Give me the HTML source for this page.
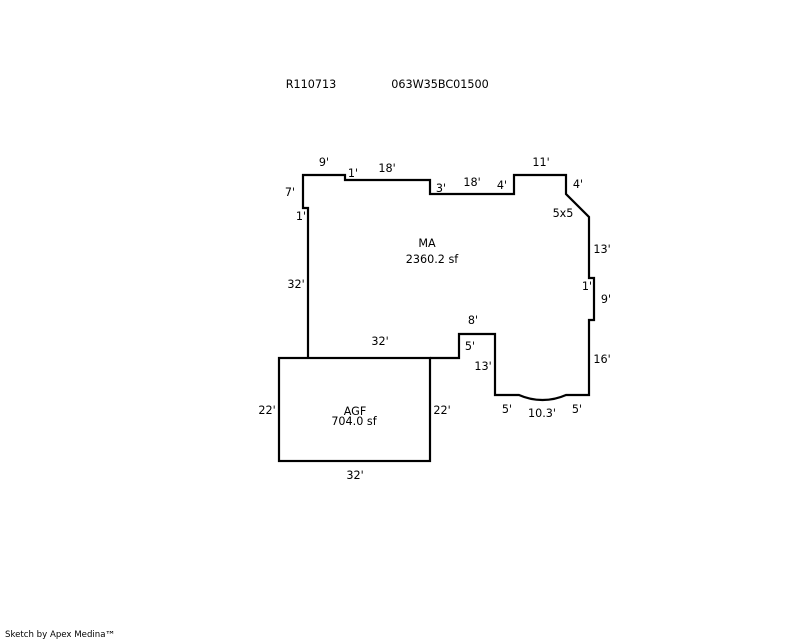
<!DOCTYPE html>
<html>
<head>
<meta charset="utf-8">
<style>
html,body{margin:0;padding:0;background:#fff;width:800px;height:640px;overflow:hidden}
svg{display:block}
text{font-family:"DejaVu Sans",sans-serif;font-size:11.2px;fill:#000;text-anchor:middle}
</style>
</head>
<body>
<svg width="800" height="640" viewBox="0 0 800 640" xmlns="http://www.w3.org/2000/svg">
<g fill="none" stroke="#000" stroke-width="2.2">
<path d="M308,358 V208 H303 V175 H345 V180 H430 V194 H514 V175 H566 V194 L589,217 V278 H594 V320 H589 V395 H566 A57.700,57.700 0 0 1 519,395 H495 V334 H459 V358 H430"/>
<rect x="279" y="358" width="151" height="103"/>
</g>
<text x="311" y="88">R110713</text>
<text x="440" y="88">063W35BC01500</text>
<text x="324" y="166">9'</text>
<text x="353" y="177">1'</text>
<text x="387" y="172">18'</text>
<text x="441" y="192">3'</text>
<text x="472" y="186">18'</text>
<text x="502" y="189">4'</text>
<text x="541" y="166">11'</text>
<text x="578" y="188">4'</text>
<text x="563" y="217">5x5</text>
<text x="602" y="253">13'</text>
<text x="290" y="196">7'</text>
<text x="301" y="220">1'</text>
<text x="296" y="288">32'</text>
<text x="587" y="290">1'</text>
<text x="606" y="303">9'</text>
<text x="427" y="247">MA</text>
<text x="432" y="263">2360.2 sf</text>
<text x="473" y="324">8'</text>
<text x="470" y="350">5'</text>
<text x="483" y="370">13'</text>
<text x="380" y="345">32'</text>
<text x="602" y="363">16'</text>
<text x="507" y="413">5'</text>
<text x="542" y="417">10.3'</text>
<text x="577" y="413">5'</text>
<text x="267" y="414">22'</text>
<text x="442" y="414">22'</text>
<text x="355" y="415">AGF</text>
<text x="354" y="425">704.0 sf</text>
<text x="355" y="479">32'</text>
<text x="5" y="637" style="font-size:8.6px;text-anchor:start">Sketch by Apex Medina<tspan dx="-0.5" dy="1.500" style="font-size:10.500px">™</tspan></text>
</svg>
</body>
</html>
